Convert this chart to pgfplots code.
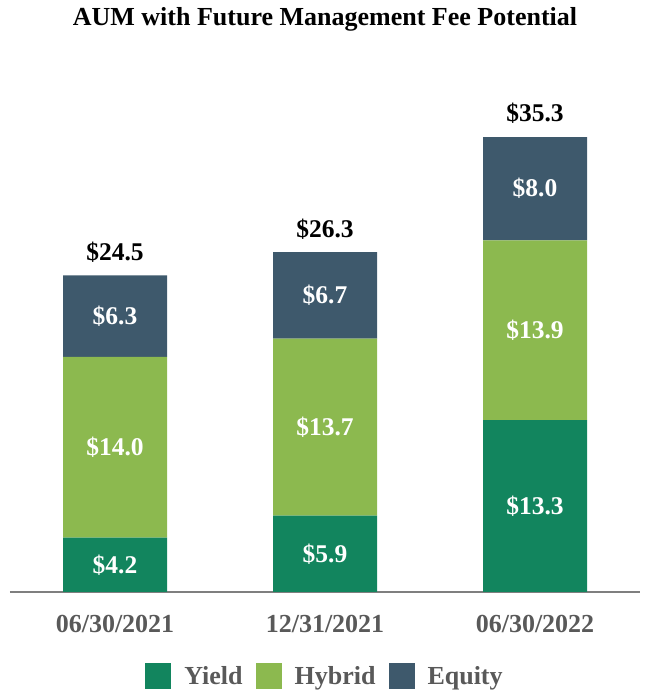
\documentclass[border=0pt]{standalone}
\usepackage{pgfplots}
\usepackage{pgfplotstable}
\pgfplotsset{compat=1.18}
\usepackage{fontspec}
\setmainfont{Liberation Serif}

\definecolor{yieldc}{HTML}{12855E}
\definecolor{hybridc}{HTML}{8CB94F}
\definecolor{equityc}{HTML}{3E596C}
\definecolor{labelgray}{HTML}{595959}
\definecolor{axisgray}{HTML}{7F7F7F}

% AUM by strategy, $bn
\pgfplotstableread{
x yield hybrid equity total
0 4.2  14.0 6.3 24.5
1 5.9  13.7 6.7 26.3
2 13.3 13.9 8.0 35.3
}\aum

\pgfplotsset{
  frame/.style={
    at={(10pt,108pt)}, anchor=south west,
    scale only axis, width=630pt, height=517pt,
    xmin=-0.5, xmax=2.5, ymin=0, ymax=40,
  },
  /pgf/number format/assume math mode=true,
  seglabel/.style={draw=none, mark=none,
    nodes near coords={\$\pgfmathprintnumber[fixed,fixed zerofill,precision=1]{\pgfplotspointmeta}},
    every node near coord/.append style={font=\fontsize{25.5}{30}\selectfont\bfseries, text=white, anchor=center}},
}

\begin{document}
\begin{tikzpicture}[x=1pt,y=1pt]
\path[use as bounding box] (0,0) rectangle (650,700);
\node[font=\fontsize{26}{30}\selectfont\bfseries] at (325,681) {AUM with Future Management Fee Potential};
\begin{axis}[
  frame,
  ybar stacked, bar width=104pt,
  axis y line=none,
  axis x line*=bottom,
  x axis line style={draw=axisgray, line width=2pt, -},
  xtick={0,1,2},
  xticklabels={06/30/2021,12/31/2021,06/30/2022},
  major tick length=0pt,
  xticklabel style={font=\fontsize{26}{30}\selectfont\bfseries, text=labelgray, yshift=-20pt},
  legend style={draw=none, fill=none, at={(axis description cs:0.5,0)}, anchor=center, yshift=-84pt,
    legend columns=3, font=\fontsize{26}{30}\selectfont\bfseries, text=labelgray,
    /tikz/every odd column/.append style={column sep=11pt},
    /tikz/every even column/.append style={column sep=11pt}},
  legend image code/.code={\fill[#1] (0pt,-13pt) rectangle (26pt,13pt);},
]
\addplot+[fill=yieldc, draw=none] table[x=x, y=yield] {\aum};
\addlegendentry{Yield}
\addplot+[fill=hybridc, draw=none] table[x=x, y=hybrid] {\aum};
\addlegendentry{Hybrid}
\addplot+[fill=equityc, draw=none] table[x=x, y=equity] {\aum};
\addlegendentry{Equity}
\end{axis}
% segment values at the middle of each segment, totals above each stack
\begin{axis}[frame, hide axis]
\addplot[seglabel, point meta=\thisrow{yield}]  table[x=x, y expr=\thisrow{yield}/2] {\aum};
\addplot[seglabel, point meta=\thisrow{hybrid}] table[x=x, y expr=\thisrow{yield}+\thisrow{hybrid}/2] {\aum};
\addplot[seglabel, point meta=\thisrow{equity}] table[x=x, y expr=\thisrow{yield}+\thisrow{hybrid}+\thisrow{equity}/2] {\aum};
\addplot[draw=none, mark=none, point meta=\thisrow{total},
  nodes near coords={\$\pgfmathprintnumber[fixed,fixed zerofill,precision=1]{\pgfplotspointmeta}},
  every node near coord/.append style={font=\fontsize{25.5}{30}\selectfont\bfseries, text=black, anchor=south, yshift=9pt}]
  table[x=x, y=total] {\aum};
\end{axis}
\end{tikzpicture}
\end{document}
